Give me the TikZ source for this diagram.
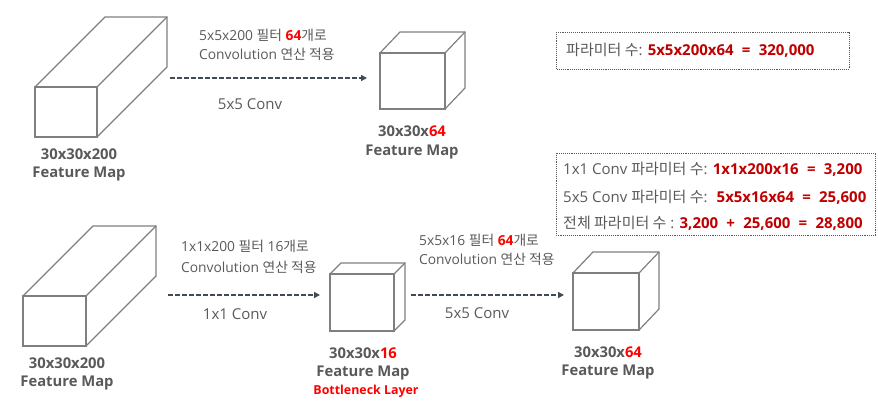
\documentclass[tikz,border=0pt]{standalone}
\usepackage{fontspec}
\setmainfont{Open Sans}
\newfontfamily\kr{Noto Sans CJK KR}
\usetikzlibrary{arrows.meta,calc}
\definecolor{txt}{HTML}{595959}
\definecolor{arr}{HTML}{414B55}
\definecolor{cube}{HTML}{7F7F7F}
\definecolor{dred}{HTML}{C00000}
\definecolor{bred}{HTML}{FF0000}
\newcommand{\K}[1]{{\kr #1}}
\tikzset{
  cubeline/.style={draw=cube, line width=1.2pt, line join=miter},
  convarrow/.style={draw=arr, line width=1.6pt, dash pattern=on 4.5pt off 2.5pt, -{Triangle[length=6pt,width=6pt]}},
  lbl/.style={text=txt, font=\fontsize{14.8}{16}\selectfont\bfseries, inner sep=0pt, anchor=center},
  note/.style={text=txt, font=\fontsize{13.8}{15}\selectfont, inner sep=0pt, anchor=west},
  conv/.style={text=txt, font=\fontsize{15}{16}\selectfont, inner sep=0pt, anchor=center},
  parbox/.style={draw=txt, line width=0.9pt, dash pattern=on 0.9pt off 1pt},
  ptxt/.style={text=txt, font=\fontsize{15}{16}\selectfont, inner sep=0pt, anchor=west},
  ptxtb/.style={text=txt, font=\fontsize{15}{16}\selectfont, inner sep=0pt, anchor=west},
}
\newcommand{\cuboid}[7]{% name, x1,y1,x2,y2, dx, dy
  \draw[cubeline] (#2,#3) rectangle (#4,#5);
  \draw[cubeline] (#2,#3) -- ++(#6,#7) -- ($(#4,#3)+(#6,#7)$) -- ($(#4,#5)+(#6,#7)$) -- (#4,#5);
  \draw[cubeline] (#4,#3) -- ++(#6,#7);
  \coordinate (#1-w) at (#2,{(#3+#5)/2});
  \coordinate (#1-e) at (#4,{(#3+#5)/2});
}
\newcommand{\eq}{\hspace{0.55em}=\hspace{0.55em}}
\newcommand{\pl}{\hspace{0.55em}+\hspace{0.55em}}
\begin{document}
\begin{tikzpicture}[x=1pt,y=-1pt]
\useasboundingbox (0,0) rectangle (878,403);
% ---------- top row ----------
\cuboid{c1}{35}{87}{97}{137}{70}{-70}
\cuboid{c2}{380}{53}{445}{109}{20}{-21}
\coordinate (a1s) at (170,78);
\coordinate (a1e) at (367,78);
\draw[convarrow] (a1s) -- (a1e);
\node[note] (n1a) at (199,35) {5x5x200 \K{필터} {\bfseries\color{bred}64}\K{개로}};
\node[note] (n1b) at (199,54) {Convolution \K{연산 적용}};
\node[conv] (n1c) at (250,104) {5x5 Conv};
\node[lbl] (l1a) at (79,154) {30x30x200};
\node[lbl] (l1b) at (79,174) {Feature Map};
\node[lbl] (l2a) at (412,131) {30x30x{\color{bred}64}};
\node[lbl] (l2b) at (412,152) {Feature Map};
\draw[parbox] (556,32) rectangle (849,69);
\node[ptxt] (p1) at (566,50) {\K{파라미터 수}: {\bfseries\color{dred}5x5x200x64\eq 320,000}};
% ---------- bottom row ----------
\cuboid{c3}{23}{296}{86}{346}{70}{-70}
\cuboid{c4}{330}{274}{394}{331}{11}{-11}
\cuboid{c5}{573}{273}{639}{330}{20}{-21}
\coordinate (a2s) at (168,295);
\coordinate (a2e) at (320,295);
\draw[convarrow] (a2s) -- (a2e);
\coordinate (a3s) at (411,295);
\coordinate (a3e) at (564,295);
\draw[convarrow] (a3s) -- (a3e);
\node[note] (n2a) at (181,246) {1x1x200 \K{필터} 16\K{개로}};
\node[note] (n2b) at (181,267) {Convolution \K{연산 적용}};
\node[conv] (n2c) at (235,314) {1x1 Conv};
\node[note] (n3a) at (419,240) {5x5x16 \K{필터} {\bfseries\color{bred}64}\K{개로}};
\node[note] (n3b) at (419,259) {Convolution \K{연산 적용}};
\node[conv] (n3c) at (477,313) {5x5 Conv};
\node[lbl] (l3a) at (67,363) {30x30x200};
\node[lbl] (l3b) at (67,383) {Feature Map};
\node[lbl] (l4a) at (363,353) {30x30x{\color{bred}16}};
\node[lbl] (l4b) at (363,373) {Feature Map};
\node[lbl, text=bred, font=\fontsize{12.4}{14}\selectfont\bfseries] (l4c) at (366,391) {Bottleneck Layer};
\node[lbl] (l5a) at (608,352) {30x30x{\color{bred}64}};
\node[lbl] (l5b) at (608,372) {Feature Map};
\draw[parbox] (556,153) rectangle (875,235);
\node[ptxtb] (q1) at (563,169) {1x1 Conv \K{파라미터 수}: {\bfseries\color{dred}1x1x200x16\eq 3,200}};
\node[ptxtb] (q2) at (563,197) {5x5 Conv \K{파라미터 수}: \ {\bfseries\color{dred}5x5x16x64\eq 25,600}};
\node[ptxtb] (q3) at (563,223) {\K{전체 파라미터 수} : {\bfseries\color{dred}3,200\pl 25,600\eq 28,800}};
\end{tikzpicture}
\end{document}
